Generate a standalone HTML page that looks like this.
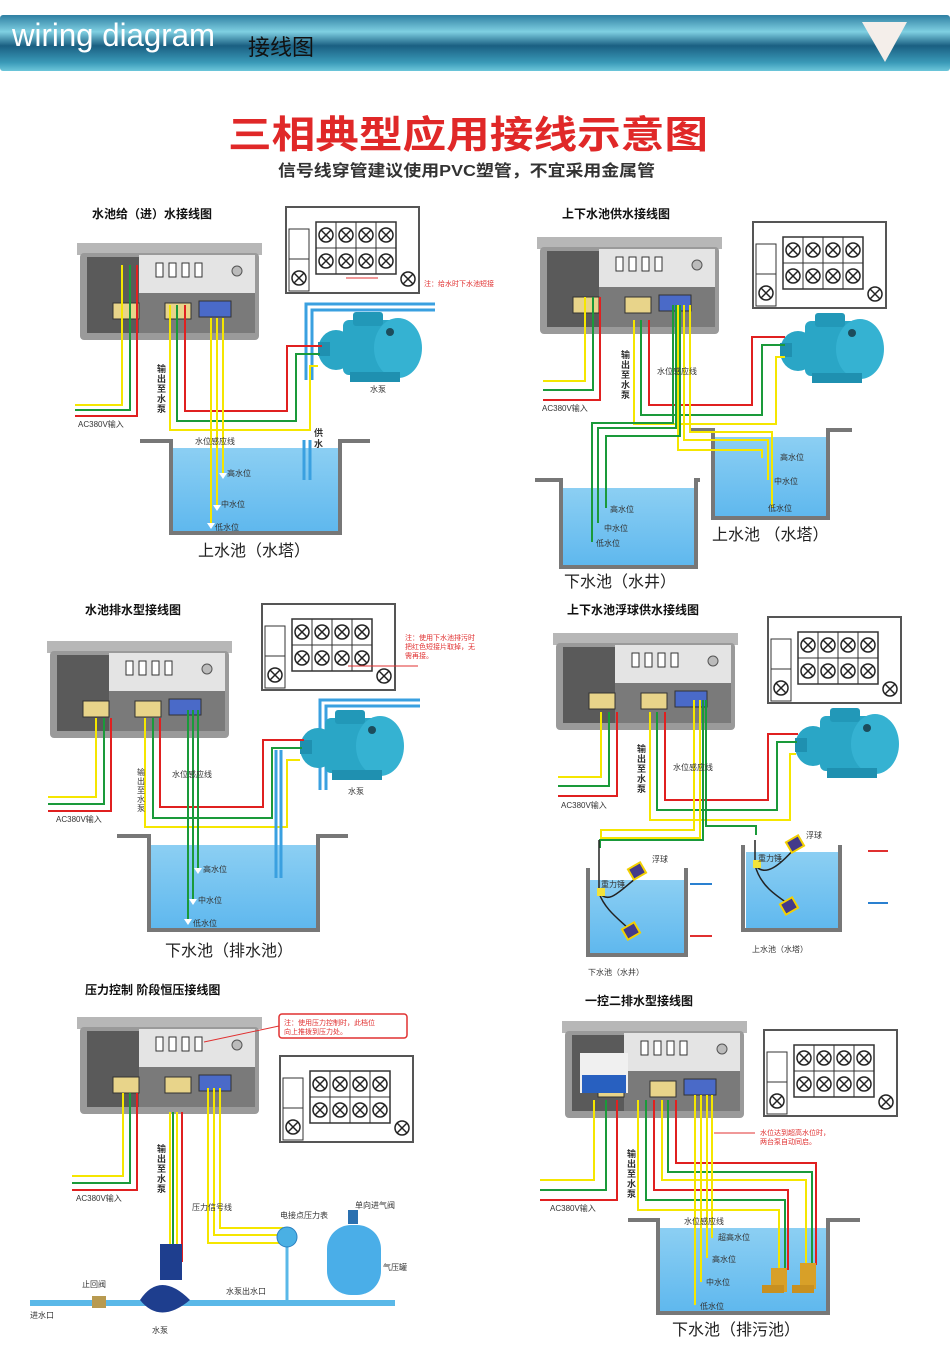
<!DOCTYPE html>
<html><head><meta charset="utf-8"><style>
html,body{margin:0;padding:0;background:#fff;width:950px;height:1371px;overflow:hidden}
svg{display:block}
text{font-family:"Liberation Sans","Noto Sans CJK SC",sans-serif}
.t{font-size:12px;font-weight:bold;fill:#111}
.s{font-size:8px;fill:#333}
.b{font-size:16px;fill:#222}
.r{font-size:7px;fill:#e03030}
.v{font-size:9px;fill:#333;font-weight:bold}
</style></head><body>
<svg width="950" height="1371" viewBox="0 0 950 1371" xmlns="http://www.w3.org/2000/svg">
<defs>
<linearGradient id="hg" x1="0" y1="0" x2="0" y2="1">
<stop offset="0" stop-color="#2f7fa2"/><stop offset="0.3" stop-color="#7fd0e2"/><stop offset="0.55" stop-color="#1a5f82"/><stop offset="0.85" stop-color="#3a9ab8"/><stop offset="1" stop-color="#6cc6da"/>
</linearGradient>
<linearGradient id="wg" x1="0" y1="0" x2="0" y2="1"><stop offset="0" stop-color="#8ccff3"/><stop offset="1" stop-color="#5fb8ee"/></linearGradient>
<g id="box">
<rect x="0" y="0" width="185" height="12" fill="#b7b7b7"/>
<rect x="3" y="10" width="179" height="87" rx="4" fill="#9a9a9a"/>
<rect x="10" y="14" width="52" height="76" fill="#5a5a5a"/>
<rect x="62" y="12" width="116" height="38" fill="#e4e4e4"/>
<rect x="79" y="20" width="7" height="14" fill="#fff" stroke="#333"/>
<rect x="92" y="20" width="7" height="14" fill="#fff" stroke="#333"/>
<rect x="105" y="20" width="7" height="14" fill="#fff" stroke="#333"/>
<rect x="118" y="20" width="7" height="14" fill="#fff" stroke="#333"/>
<circle cx="160" cy="28" r="5" fill="#bbb" stroke="#555"/>
<rect x="62" y="50" width="116" height="40" fill="#7a7a7a"/>
<rect x="36" y="60" width="26" height="16" fill="#e8d48a" stroke="#333"/>
<rect x="88" y="60" width="26" height="16" fill="#e8d48a" stroke="#333"/>
<rect x="122" y="58" width="32" height="16" fill="#4a6ac8" stroke="#333"/>
</g>
<g id="cx"><circle r="7" fill="#fff" stroke="#222" stroke-width="1.5"/><path d="M-5-5L5 5M5-5L-5 5" stroke="#222" stroke-width="1.5"/></g>
<g id="term">
<rect x="0" y="0" width="133" height="86" fill="#fff" stroke="#555" stroke-width="2"/>
<rect x="3" y="22" width="20" height="62" fill="#fff" stroke="#333"/>
<rect x="3" y="22" width="20" height="30" fill="#fff" stroke="#333"/>
<use href="#cx" x="13" y="71"/>
<rect x="30" y="15" width="80" height="52" fill="#fff" stroke="#333" stroke-width="1.5"/>
<path d="M50 15V67M70 15V67M90 15V67M30 41H110" stroke="#333"/>
<use href="#cx" x="40" y="28"/><use href="#cx" x="60" y="28"/><use href="#cx" x="80" y="28"/><use href="#cx" x="100" y="28"/>
<use href="#cx" x="40" y="54"/><use href="#cx" x="60" y="54"/><use href="#cx" x="80" y="54"/><use href="#cx" x="100" y="54"/>
<use href="#cx" x="122" y="72"/>
</g>
<g id="pump">
<rect x="25" y="8" width="55" height="55" rx="6" fill="#2aa6c6"/>
<ellipse cx="80" cy="36" rx="24" ry="30" fill="#35b2d2"/>
<rect x="35" y="0" width="30" height="14" rx="3" fill="#2298b8"/>
<ellipse cx="18" cy="38" rx="18" ry="20" fill="#2aa6c6"/>
<rect x="0" y="30" width="12" height="14" fill="#1f90b0"/>
<rect x="32" y="60" width="50" height="10" fill="#1f90b0"/>
<circle cx="72" cy="20" r="4" fill="#1c4c5c"/>
</g>
<path id="lv" d="M-4 0h8l-4 6z" fill="#fff"/>
</defs>

<!-- header -->
<rect x="0" y="15" width="950" height="56" rx="3" fill="url(#hg)"/>
<text x="12" y="46" font-size="32" fill="#fff" textLength="203" lengthAdjust="spacingAndGlyphs" style="font-family:'Liberation Sans Narrow','Liberation Sans',sans-serif">wiring diagram</text>
<text x="248" y="55" font-size="22" fill="#111">接线图</text>
<path d="M862 22H907L885 62Z" fill="#f4eeea"/>

<text x="228" y="148" font-size="38" font-weight="bold" fill="#e02828" textLength="480" lengthAdjust="spacingAndGlyphs">三相典型应用接线示意图</text>
<text x="278" y="176" font-size="16" fill="#333" textLength="377" lengthAdjust="spacingAndGlyphs" font-weight="bold">信号线穿管建议使用PVC塑管，不宜采用金属管</text>

<!-- PANEL 1 -->
<text x="92" y="218" class="t">水池给（进）水接线图</text>
<rect x="173" y="448" width="165" height="83" fill="url(#wg)"/>
<path d="M140 441H171V533H340V441H370" fill="none" stroke="#777" stroke-width="4"/>
<use href="#box" x="77" y="243"/>
<use href="#term" x="286" y="207"/>
<path d="M346 278H378" stroke="#e03030"/><text x="424" y="286" class="r">注：给水时下水池短接</text>
<path d="M306 380V304H435M312 380V310H435" stroke="#3aa0e0" stroke-width="3" fill="none"/>
<use href="#pump" x="318" y="312"/>
<text x="370" y="392" class="s">水泵</text>
<g fill="none" stroke-width="2">
<path d="M122 265V405H75" stroke="#f5e600"/><path d="M130 265V410H75" stroke="#1a9a3a"/><path d="M137 265V416H75" stroke="#e02020"/>
<path d="M170 305V430H310V366H318" stroke="#f5e600"/><path d="M177 305V421H296V354H320" stroke="#1a9a3a"/><path d="M185 305V411H287V346H322" stroke="#e02020"/>
<path d="M211 318V526M217 318V505M223 318V473" stroke="#f5e600"/>
<path d="M304 440V480M310 440V480" stroke="#3aa0e0" stroke-width="3"/>
</g>
<use href="#lv" x="223" y="473"/><use href="#lv" x="217" y="505"/><use href="#lv" x="211" y="523"/>
<text x="78" y="427" class="s">AC380V输入</text>
<text x="157" y="372" class="v"><tspan x="157">输</tspan><tspan x="157" dy="10">出</tspan><tspan x="157" dy="10">至</tspan><tspan x="157" dy="10">水</tspan><tspan x="157" dy="10">泵</tspan></text>
<text x="195" y="444" class="s">水位感应线</text>
<text x="314" y="436" class="v"><tspan x="314">供</tspan><tspan x="314" dy="11">水</tspan></text>
<text x="227" y="476" class="s" font-size="7">高水位</text><text x="221" y="507" class="s" font-size="7">中水位</text><text x="215" y="530" class="s" font-size="7">低水位</text>
<text x="198" y="556" class="b">上水池（水塔）</text>

<!-- PANEL 2 -->
<text x="562" y="218" class="t">上下水池供水接线图</text>
<use href="#box" x="537" y="237"/>
<use href="#term" x="753" y="222"/>
<rect x="563" y="488" width="131" height="77" fill="url(#wg)"/>
<path d="M535 480H561V567H696V480H700" fill="none" stroke="#777" stroke-width="4"/>
<rect x="715" y="437" width="111" height="79" fill="url(#wg)"/>
<path d="M690 430H713V518H828V430H852" fill="none" stroke="#777" stroke-width="4"/>
<use href="#pump" x="780" y="313"/>
<g fill="none" stroke-width="2">
<path d="M585 297V381H543" stroke="#f5e600"/><path d="M593 297V390H543" stroke="#1a9a3a"/><path d="M600 297V400H543" stroke="#e02020"/>
<path d="M634 320V424H776V357H785" stroke="#f5e600"/><path d="M641 320V415H762V345H785" stroke="#1a9a3a"/><path d="M649 320V405H752V337H785" stroke="#e02020"/>
<path d="M678 305V450H762V458M684 305V440H768V480M690 305V432H772V508" stroke="#f5e600"/>
<path d="M673 305V423H592V542M676 305V428H598V523M680 305V436H606V508" stroke="#1a9a3a"/>
</g>
<text x="542" y="411" class="s">AC380V输入</text>
<text x="621" y="358" class="v"><tspan x="621">输</tspan><tspan x="621" dy="10">出</tspan><tspan x="621" dy="10">至</tspan><tspan x="621" dy="10">水</tspan><tspan x="621" dy="10">泵</tspan></text>
<text x="657" y="374" class="s">水位感应线</text>
<text x="780" y="460" class="s" font-size="7">高水位</text><text x="774" y="484" class="s" font-size="7">中水位</text><text x="768" y="511" class="s" font-size="7">低水位</text>
<text x="610" y="512" class="s" font-size="7">高水位</text><text x="604" y="531" class="s" font-size="7">中水位</text><text x="596" y="546" class="s" font-size="7">低水位</text>
<text x="712" y="540" class="b">上水池 （水塔）</text>
<text x="564" y="587" class="b">下水池（水井）</text>

<!-- PANEL 3 -->
<text x="85" y="614" class="t">水池排水型接线图</text>
<use href="#box" x="47" y="641"/>
<use href="#term" x="262" y="604"/>
<path d="M348 666H418" stroke="#e03030"/>
<text x="405" y="640" class="r">注：使用下水池排污时</text><text x="405" y="649" class="r">把红色短接片取掉，无</text><text x="405" y="658" class="r">需再接。</text>
<rect x="151" y="845" width="166" height="83" fill="url(#wg)"/>
<path d="M117 836H149V930H318V836H348" fill="none" stroke="#777" stroke-width="4"/>
<path d="M320 790V700H420M326 790V706H420" stroke="#3aa0e0" stroke-width="3" fill="none"/>
<use href="#pump" x="300" y="710"/>
<text x="348" y="794" class="s" font-size="10">水泵</text>
<g fill="none" stroke-width="2">
<path d="M96 718V797H48" stroke="#f5e600"/><path d="M104 718V804H48" stroke="#1a9a3a"/><path d="M111 718V811H48" stroke="#e02020"/>
<path d="M145 718V827H287V760H300" stroke="#f5e600"/><path d="M153 718V818H272V748H302" stroke="#1a9a3a"/><path d="M160 718V807H263V740H304" stroke="#e02020"/>
<path d="M188 710V922M193 710V900M198 710V869" stroke="#1a9a3a"/>
<path d="M276 750V878M281 750V878" stroke="#3aa0e0" stroke-width="3"/>
</g>
<use href="#lv" x="198" y="868"/><use href="#lv" x="193" y="899"/><use href="#lv" x="188" y="919"/>
<text x="56" y="822" class="s" font-size="7">AC380V输入</text>
<text x="137" y="775" class="s" font-size="7"><tspan x="137">输</tspan><tspan x="137" dy="9">出</tspan><tspan x="137" dy="9">至</tspan><tspan x="137" dy="9">水</tspan><tspan x="137" dy="9">泵</tspan></text>
<text x="172" y="777" class="s" font-size="7">水位感应线</text>
<text x="203" y="872" class="s" font-size="7">高水位</text><text x="198" y="903" class="s" font-size="7">中水位</text><text x="193" y="926" class="s" font-size="7">低水位</text>
<text x="165" y="956" class="b">下水池（排水池）</text>

<!-- PANEL 4 -->
<text x="567" y="614" class="t">上下水池浮球供水接线图</text>
<use href="#box" x="553" y="633"/>
<use href="#term" x="768" y="617"/>
<use href="#pump" x="795" y="708"/>
<g fill="none" stroke-width="2">
<path d="M601 712V777H558" stroke="#f5e600"/><path d="M609 712V786H558" stroke="#1a9a3a"/><path d="M617 712V796H558" stroke="#e02020"/>
<path d="M650 712V820H790V754H796" stroke="#f5e600"/><path d="M657 712V810H777V742H797" stroke="#1a9a3a"/><path d="M665 712V800H768V734H798" stroke="#e02020"/>
<path d="M694 700V830H601V840M700 700V838H601" stroke="#f5e600"/>
<path d="M703 700V840H600V848M706 700V826H756V835" stroke="#1a9a3a"/>
</g>
<rect x="590" y="880" width="94" height="73" fill="url(#wg)"/>
<rect x="746" y="852" width="92" height="77" fill="url(#wg)"/>
<path d="M588 868V955H686V868M743 845V930H840V845" fill="none" stroke="#777" stroke-width="4"/>
<path d="M599 840V893C610 905 620 890 640 875M599 893C605 910 620 920 630 930" stroke="#222" stroke-width="1.5" fill="none"/>
<path d="M755 840V865C765 878 780 865 795 848M755 865C760 885 775 895 790 905" stroke="#222" stroke-width="1.5" fill="none"/>
<rect x="597" y="888" width="8" height="8" fill="#f3e33a"/><rect x="753" y="860" width="8" height="8" fill="#f3e33a"/>
<rect x="630" y="865" width="14" height="12" fill="#443a8a" stroke="#f3d000" stroke-width="2" transform="rotate(-30 637 871)"/>
<rect x="624" y="925" width="14" height="12" fill="#443a8a" stroke="#f3d000" stroke-width="2" transform="rotate(-30 631 931)"/>
<rect x="788" y="838" width="14" height="12" fill="#443a8a" stroke="#f3d000" stroke-width="2" transform="rotate(-30 795 844)"/>
<rect x="782" y="900" width="14" height="12" fill="#443a8a" stroke="#f3d000" stroke-width="2" transform="rotate(-30 789 906)"/>
<path d="M690 936H712M868 851H888" stroke-width="2" stroke="#e03030"/>
<path d="M690 884H712M868 903H888" stroke-width="2" stroke="#2a80d0"/>
<text x="561" y="808" class="s">AC380V输入</text>
<text x="637" y="752" class="v"><tspan x="637">输</tspan><tspan x="637" dy="10">出</tspan><tspan x="637" dy="10">至</tspan><tspan x="637" dy="10">水</tspan><tspan x="637" dy="10">泵</tspan></text>
<text x="673" y="770" class="s">水位感应线</text>
<text x="652" y="862" class="s" font-size="7">浮球</text><text x="806" y="838" class="s" font-size="7">浮球</text>
<text x="601" y="887" class="s" font-size="6">重力锤</text><text x="758" y="861" class="s" font-size="6">重力锤</text>
<text x="752" y="952" class="s" font-size="12">上水池（水塔）</text>
<text x="588" y="975" class="s" font-size="12">下水池（水井）</text>

<!-- PANEL 5 -->
<text x="85" y="994" class="t">压力控制 阶段恒压接线图</text>
<use href="#box" x="77" y="1017"/>
<rect x="279" y="1014" width="128" height="24" rx="3" fill="#fff" stroke="#e03030" stroke-width="1.5"/>
<text x="284" y="1025" class="r">注：使用压力控制时，此档位</text><text x="284" y="1034" class="r">向上推拨到压力处。</text>
<path d="M279 1026L204 1042" stroke="#e03030"/>
<use href="#term" x="280" y="1056"/>
<g fill="none" stroke-width="2">
<path d="M123 1093V1176H72" stroke="#f5e600"/><path d="M130 1093V1183H72" stroke="#1a9a3a"/><path d="M137 1093V1190H72" stroke="#e02020"/>
<path d="M170 1112V1270M177 1112V1270" stroke="#f5e600"/><path d="M173 1112V1270" stroke="#1a9a3a"/><path d="M182 1112V1262" stroke="#e02020"/>
<path d="M208 1088V1243H283M214 1088V1235H283M220 1088V1228H283" stroke="#f5e600"/>
</g>
<path d="M30 1303H395" stroke="#5ab8e8" stroke-width="6"/>
<path d="M287 1245V1300" stroke="#5ab8e8" stroke-width="3"/>
<circle cx="287" cy="1237" r="10" fill="#4ab0e4" stroke="#2a80c0"/>
<rect x="327" y="1225" width="54" height="70" rx="24" fill="#4aaee8"/>
<rect x="348" y="1210" width="10" height="14" fill="#2a70b0"/>
<rect x="160" y="1244" width="22" height="36" fill="#1e3e8e"/>
<path d="M140 1300Q160 1270 190 1300Q160 1325 140 1300Z" fill="#1e3e8e"/>
<rect x="92" y="1296" width="14" height="12" fill="#b89a50"/>
<text x="76" y="1201" class="s">AC380V输入</text>
<text x="157" y="1152" class="v"><tspan x="157">输</tspan><tspan x="157" dy="10">出</tspan><tspan x="157" dy="10">至</tspan><tspan x="157" dy="10">水</tspan><tspan x="157" dy="10">泵</tspan></text>
<text x="192" y="1210" class="s">压力信号线</text>
<text x="280" y="1218" class="s" font-size="7">电接点压力表</text>
<text x="355" y="1208" class="s" font-size="7">单向进气阀</text>
<text x="383" y="1270" class="s" font-size="12">气压罐</text>
<text x="226" y="1294" class="s" font-size="7">水泵出水口</text>
<text x="82" y="1287" class="s" font-size="9">止回阀</text>
<text x="30" y="1318" class="s" font-size="7">进水口</text>
<text x="152" y="1333" class="s" font-size="12">水泵</text>

<!-- PANEL 6 -->
<text x="585" y="1005" class="t">一控二排水型接线图</text>
<use href="#box" x="562" y="1021"/>
<rect x="580" y="1053" width="48" height="40" fill="#f0f0f0"/><rect x="582" y="1075" width="44" height="18" fill="#2860c0"/>
<use href="#term" x="764" y="1030"/>
<rect x="660" y="1228" width="166" height="83" fill="url(#wg)"/>
<path d="M628 1220H658V1313H828V1220H860" fill="none" stroke="#777" stroke-width="4"/>
<g fill="none" stroke-width="2">
<path d="M594 1100V1180H540" stroke="#f5e600"/><path d="M606 1100V1190H540" stroke="#1a9a3a"/><path d="M617 1100V1200H540" stroke="#e02020"/>
<path d="M638 1100V1210H779V1270" stroke="#f5e600"/><path d="M646 1100V1200H785V1270" stroke="#1a9a3a"/><path d="M654 1100V1190H788V1270" stroke="#e02020"/>
<path d="M662 1100V1180H806V1265" stroke="#f5e600"/><path d="M668 1100V1172H812V1265" stroke="#1a9a3a"/><path d="M676 1100V1163H816V1265" stroke="#e02020"/>
<path d="M695 1095V1305M701 1095V1282M707 1095V1258M712 1095V1238" stroke="#f5e600"/>
</g>
<path d="M714 1133H755" stroke="#e03030"/>
<text x="760" y="1135" class="r">水位达到超高水位时，</text><text x="760" y="1144" class="r">两台泵自动同启。</text>
<rect x="771" y="1268" width="16" height="24" fill="#d8a028"/><rect x="800" y="1263" width="16" height="26" fill="#d8a028"/>
<rect x="762" y="1285" width="22" height="8" fill="#c89020"/><rect x="792" y="1285" width="22" height="8" fill="#c89020"/>
<text x="550" y="1211" class="s">AC380V输入</text>
<text x="627" y="1157" class="v"><tspan x="627">输</tspan><tspan x="627" dy="10">出</tspan><tspan x="627" dy="10">至</tspan><tspan x="627" dy="10">水</tspan><tspan x="627" dy="10">泵</tspan></text>
<text x="684" y="1224" class="s">水位感应线</text>
<text x="718" y="1240" class="s" font-size="7">超高水位</text><text x="712" y="1262" class="s" font-size="7">高水位</text>
<text x="706" y="1285" class="s" font-size="7">中水位</text><text x="700" y="1309" class="s" font-size="7">低水位</text>
<text x="672" y="1335" class="b">下水池（排污池）</text>
</svg>
</body></html>
